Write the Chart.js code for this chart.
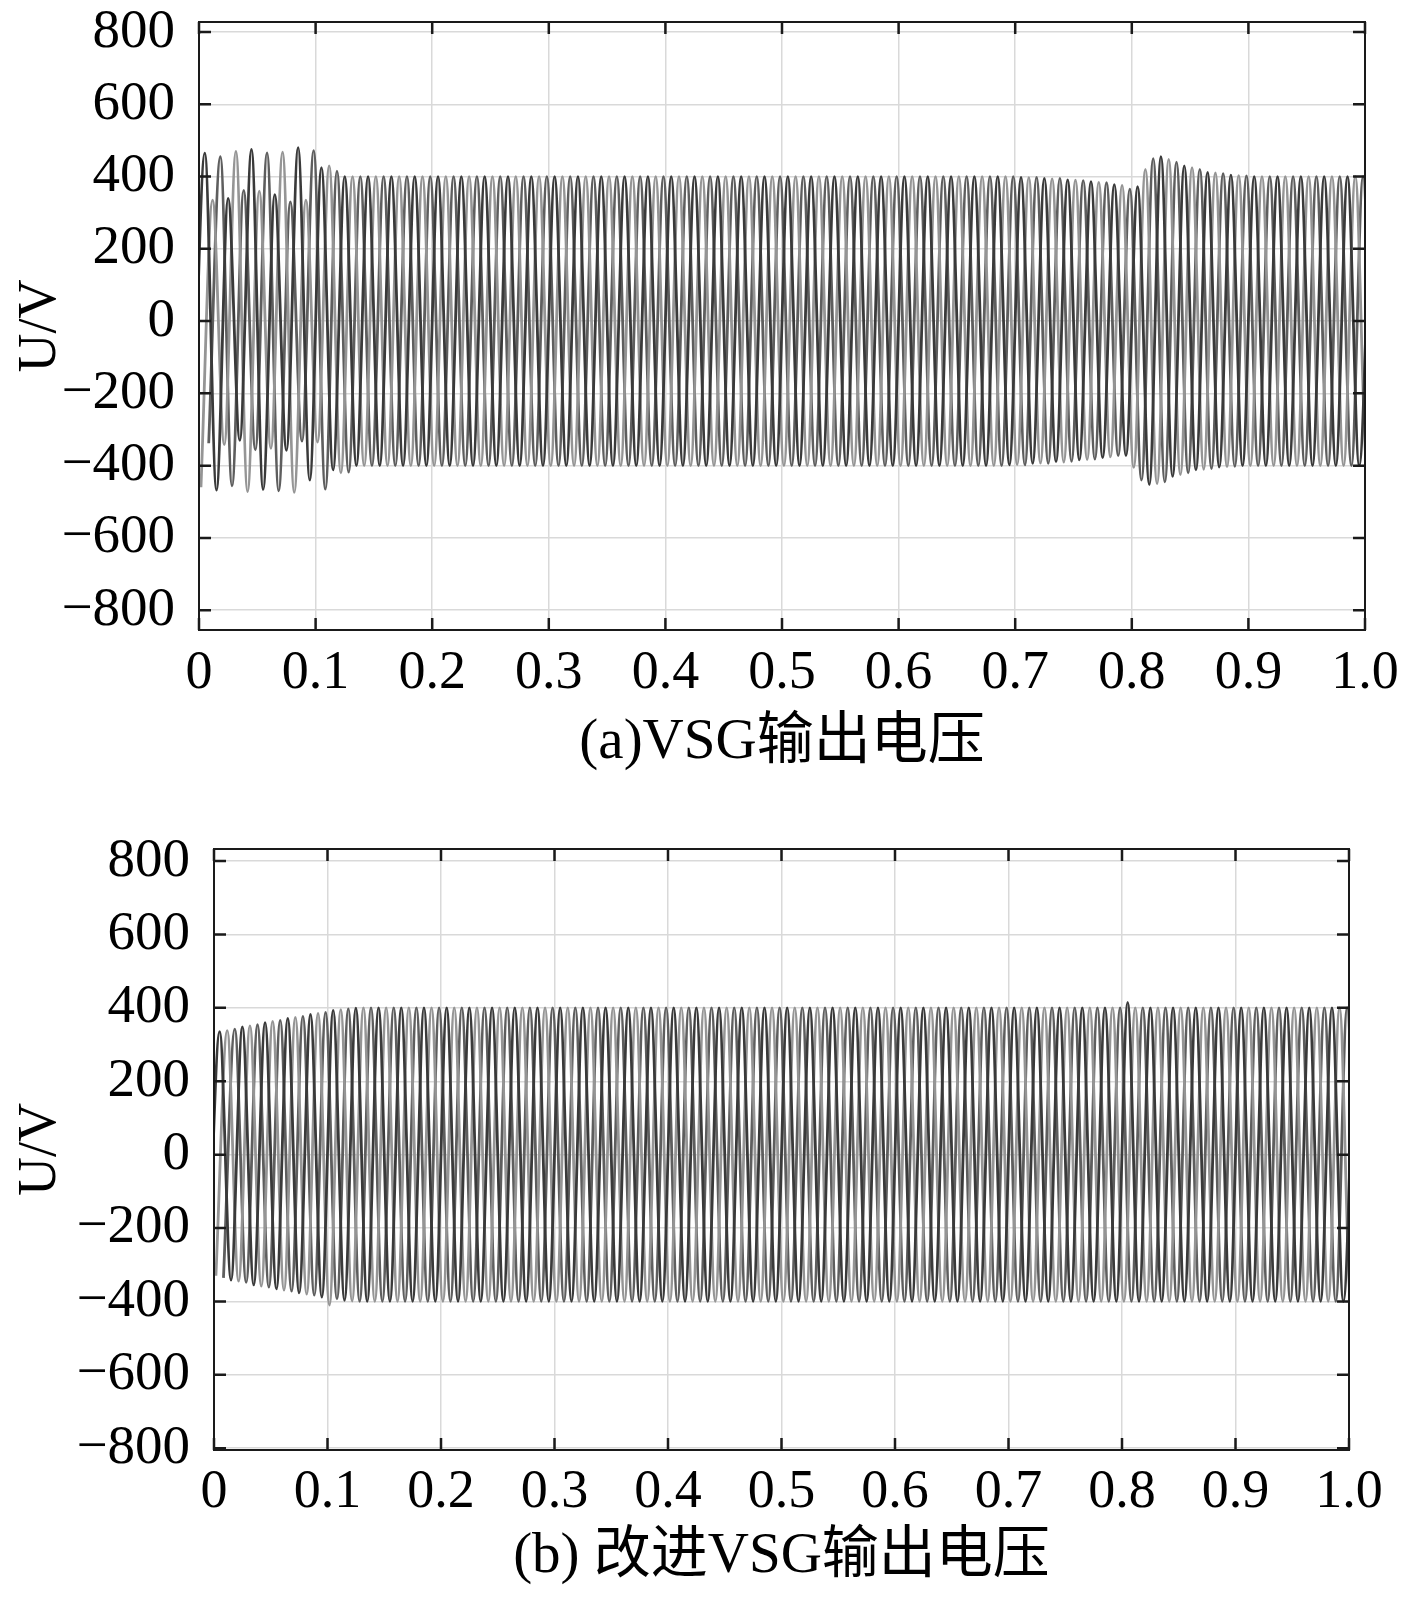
<!DOCTYPE html>
<html>
<head>
<meta charset="utf-8">
<title>VSG输出电压</title>
<script src="https://cdn.jsdelivr.net/npm/chart.js@4.4.1/dist/chart.umd.min.js"></script>
<style>
  html, body { margin: 0; padding: 0; background: #fff; }
  body { width: 1417px; height: 1598px; position: relative; overflow: hidden; }
  .panel { position: absolute; left: 0; width: 1417px; }
  #panel-a { top: 0; height: 790px; }
  #panel-b { top: 800px; height: 798px; }
</style>
</head>
<body>
<div class="panel" id="panel-a"><canvas id="chart-a"></canvas></div>
<div class="panel" id="panel-b"><canvas id="chart-b"></canvas></div>
<script>
// Axis ticks
const xTicks = [0, 0.1, 0.2, 0.3, 0.4, 0.5, 0.6, 0.7, 0.8, 0.9, 1.0];
const xLabels = ['0', '0.1', '0.2', '0.3', '0.4', '0.5', '0.6', '0.7', '0.8', '0.9', '1.0'];
const yTicks = [-800, -600, -400, -200, 0, 200, 400, 600, 800];
const yLabels = ['\u2212800', '\u2212600', '\u2212400', '\u2212200', '0', '200', '400', '600', '800'];

// 50 Hz three-phase voltage: one positive peak (top) and one negative peak (bot)
// per cycle and phase (cycle k = 0..50)
const periodS = 0.02;

// (a) VSG output voltage
const aTop1 = [465, 340, 475, 350, 480, 425,
  400, 400, 400, 400, 400, 400, 400, 400, 400, 400,
  400, 400, 400, 400, 400, 400, 400, 400, 400, 400,
  400, 400, 400, 400, 400, 400, 400, 400, 400,
  398, 395, 391, 386, 378,
  372, 455, 430, 412, 404,
  400, 400, 400, 400, 400, 400];
const aTop2 = [335, 470, 360, 468, 335, 430,
  400, 400, 400, 400, 400, 400, 400, 400, 400, 400,
  400, 400, 400, 400, 400, 400, 400, 400, 400, 400,
  400, 400, 400, 400, 400, 400, 400, 400, 400,
  397, 394, 390, 384, 376,
  420, 448, 425, 410, 403,
  400, 400, 400, 400, 400, 400];
const aTop3 = [455, 362, 466, 330, 472, 415,
  400, 400, 400, 400, 400, 400, 400, 400, 400, 400,
  400, 400, 400, 400, 400, 400, 400, 400, 400, 400,
  400, 400, 400, 400, 400, 400, 400, 400, 400,
  398, 395, 389, 383, 365,
  450, 440, 420, 408, 402,
  400, 400, 400, 400, 400, 400];
const aBot1 = [-350, -468, -330, -466, -358, -440, -412,
  -400, -400, -400, -400, -400, -400, -400, -400, -400, -400,
  -400, -400, -400, -400, -400, -400, -400, -400, -400, -400,
  -400, -400, -400, -400, -400, -400, -400, -400,
  -398, -394, -389, -384,
  -378, -372, -452, -430, -412, -404,
  -400, -400, -400, -400, -400, -400];
const aBot2 = [-460, -342, -472, -352, -474, -335, -420,
  -400, -400, -400, -400, -400, -400, -400, -400, -400, -400,
  -400, -400, -400, -400, -400, -400, -400, -400, -400, -400,
  -400, -400, -400, -400, -400, -400, -400, -400,
  -397, -393, -390, -383,
  -376, -405, -450, -425, -410, -403,
  -400, -400, -400, -400, -400, -400];
const aBot3 = [-338, -456, -356, -470, -332, -465, -418,
  -400, -400, -400, -400, -400, -400, -400, -400, -400, -400,
  -400, -400, -400, -400, -400, -400, -400, -400, -400, -400,
  -400, -400, -400, -400, -400, -400, -400, -400,
  -398, -394, -388, -382,
  -372, -440, -445, -420, -408, -402,
  -400, -400, -400, -400, -400, -400];

// (b) improved VSG output voltage
const bTop1 = [335, 348, 360, 371, 382, 393, 399,
  400, 400, 400, 400, 400, 400, 400, 400, 400, 400,
  400, 400, 400, 400, 400, 400, 400, 400, 400, 400,
  400, 400, 400, 400, 400, 400, 400, 400, 400, 400,
  400, 400, 400,
  415,
  400, 400, 400, 400, 400, 400, 400, 400, 400, 400];
const bTop2 = [338, 351, 363, 374, 385, 395,
  400, 400, 400, 400, 400, 400, 400, 400, 400, 400,
  400, 400, 400, 400, 400, 400, 400, 400, 400, 400,
  400, 400, 400, 400, 400, 400, 400, 400, 400, 400,
  400, 400, 400, 400, 400, 400, 400, 400, 400, 400,
  400, 400, 400, 400, 400];
const bTop3 = [342, 354, 366, 377, 388, 397,
  400, 400, 400, 400, 400, 400, 400, 400, 400, 400,
  400, 400, 400, 400, 400, 400, 400, 400, 400, 400,
  400, 400, 400, 400, 400, 400, 400, 400, 400, 400,
  400, 400, 400, 400, 400, 400, 400, 400, 400, 400,
  400, 400, 400, 400, 400];
const bBot1 = [-330, -342, -355, -366, -377, -388, -397,
  -400, -400, -400, -400, -400, -400, -400, -400, -400, -400,
  -400, -400, -400, -400, -400, -400, -400, -400, -400, -400,
  -400, -400, -400, -400, -400, -400, -400, -400, -400, -400,
  -400, -400, -400, -400, -400, -400, -400, -400, -400, -400,
  -400, -400, -400, -400];
const bBot2 = [-330, -345, -358, -369, -380, -410, -399,
  -400, -400, -400, -400, -400, -400, -400, -400, -400, -400,
  -400, -400, -400, -400, -400, -400, -400, -400, -400, -400,
  -400, -400, -400, -400, -400, -400, -400, -400, -400, -400,
  -400, -400, -400, -400, -400, -400, -400, -400, -400, -400,
  -400, -400, -400, -400];
const bBot3 = [-336, -348, -361, -372, -383, -393,
  -400, -400, -400, -400, -400, -400, -400, -400, -400, -400,
  -400, -400, -400, -400, -400, -400, -400, -400, -400, -400,
  -400, -400, -400, -400, -400, -400, -400, -400, -400, -400,
  -400, -400, -400, -400, -400, -400, -400, -400, -400, -400,
  -400, -400, -400, -400, -400];

const phaseColors = ['#3a3a3a', '#959595', '#5e5e5e'];
const serif = '"Liberation Serif", "Times New Roman", "Noto Sans CJK SC", serif';

// Peaks of phase p: negative peak a quarter period before, positive a quarter after
function phasePoints(tops, bots, p) {
  const pts = [];
  for (let k = 0; k < tops.length; k++) {
    const t0 = k * periodS + p * periodS / 3;
    pts.push({ x: t0 - periodS / 4, y: bots[k] });
    pts.push({ x: t0 + periodS / 4, y: tops[k] });
  }
  return pts;
}

// MATLAB style box with inward ticks on all four sides
const framePlugin = {
  id: 'frame',
  afterDraw(chart) {
    const { ctx, chartArea: a, scales: { x, y } } = chart;
    ctx.save();
    ctx.strokeStyle = '#1a1a1a';
    ctx.lineWidth = 2.5;
    ctx.beginPath();
    y.ticks.forEach(t => {
      const py = y.getPixelForValue(t.value);
      ctx.moveTo(a.left, py); ctx.lineTo(a.left + 12, py);
      ctx.moveTo(a.right, py); ctx.lineTo(a.right - 12, py);
    });
    x.ticks.forEach(t => {
      const px = x.getPixelForValue(t.value);
      ctx.moveTo(px, a.bottom); ctx.lineTo(px, a.bottom - 12);
      ctx.moveTo(px, a.top); ctx.lineTo(px, a.top + 12);
    });
    ctx.stroke();
    ctx.lineWidth = 2;
    ctx.strokeRect(a.left, a.top, a.right - a.left, a.bottom - a.top);
    ctx.restore();
  }
};

function buildChart(canvasId, tops, bots, box) {
  const datasets = tops.map((t, p) => ({
    data: phasePoints(t, bots[p], p),
    borderColor: phaseColors[p],
    borderWidth: 2.8,
    pointRadius: 0,
    cubicInterpolationMode: 'monotone',
    clip: 0
  }));
  return new Chart(document.getElementById(canvasId), {
    type: 'line',
    data: { datasets: datasets },
    options: {
      responsive: true,
      maintainAspectRatio: false,
      animation: false,
      layout: { padding: { left: 0, top: box.top, right: box.right, bottom: 0 } },
      plugins: { legend: { display: false }, tooltip: { enabled: false } },
      scales: {
        x: {
          type: 'linear',
          min: 0,
          max: 1,
          afterBuildTicks: s => { s.ticks = xTicks.map(v => ({ value: v })); },
          afterFit: s => { s.height = box.xHeight; s.paddingLeft = 0; s.paddingRight = 0; },
          ticks: {
            callback: (v, i) => xLabels[i],
            autoSkip: false,
            maxRotation: 0,
            padding: box.xPad,
            color: '#000',
            font: { family: serif, size: 54, lineHeight: 1 }
          },
          grid: { color: '#d9d9d9', lineWidth: 1.5, drawTicks: false },
          border: { display: false },
          title: {
            display: true,
            text: box.caption,
            color: '#000',
            font: { family: serif, size: 57, lineHeight: 1 },
            padding: { top: 0, bottom: box.captionPad }
          }
        },
        y: {
          min: box.yMin,
          max: box.yMax,
          afterBuildTicks: s => { s.ticks = yTicks.map(v => ({ value: v })); },
          afterFit: s => { s.width = box.yWidth; s.paddingTop = 0; s.paddingBottom = 0; },
          ticks: {
            callback: (v, i) => yLabels[i],
            autoSkip: false,
            padding: 24,
            color: '#000',
            font: { family: serif, size: 55, lineHeight: 1 }
          },
          grid: { color: '#d9d9d9', lineWidth: 1.5, drawTicks: false },
          border: { display: false },
          title: {
            display: true,
            text: 'U/V',
            color: '#000',
            font: { family: serif, size: 54, lineHeight: 1 },
            padding: { top: 14, bottom: 0 }
          }
        }
      }
    },
    plugins: [framePlugin]
  });
}

buildChart('chart-a', [aTop1, aTop2, aTop3], [aBot1, aBot2, aBot3], {
  top: 22, right: 52, yWidth: 199, xHeight: 160, xPad: 17, captionPad: 18,
  yMin: -855, yMax: 828, caption: '(a)VSG输出电压'
});

buildChart('chart-b', [bTop1, bTop2, bTop3], [bBot1, bBot2, bBot3], {
  top: 49, right: 68, yWidth: 214, xHeight: 148, xPad: 16, captionPad: 12,
  yMin: -805, yMax: 833, caption: '(b) 改进VSG输出电压'
});
</script>
</body>
</html>
